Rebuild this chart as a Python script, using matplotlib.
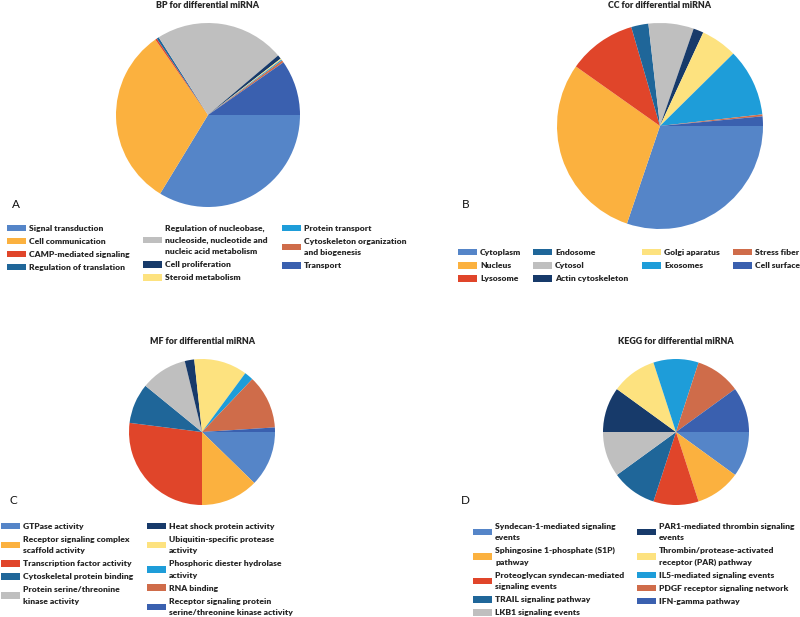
import matplotlib
matplotlib.use("Agg")
import matplotlib.pyplot as plt
from matplotlib.patches import Patch
from matplotlib.font_manager import FontProperties

plt.rcParams['font.family'] = ['Lato', 'DejaVu Sans']

# ---------------- data ----------------
bp_labels = ["Signal transduction", "Cell communication", "CAMP-mediated signaling",
             "Regulation of translation",
             "Regulation of nucleobase,\nnucleoside, nucleotide and\nnucleic acid metabolism",
             "Cell proliferation", "Steroid metabolism", "Protein transport",
             "Cytoskeleton organization\nand biogenesis", "Transport"]
bp_values = [33.7, 31.6, 0.3, 0.4, 22.8, 0.7, 0.2, 0.2, 0.4, 9.7]

cc_labels = ["Cytoplasm", "Nucleus", "Lysosome", "Endosome", "Cytosol",
             "Actin cytoskeleton", "Golgi aparatus", "Exosomes", "Stress fiber", "Cell surface"]
cc_values = [30.2, 29.6, 10.7, 2.7, 7.1, 1.6, 5.7, 10.6, 0.3, 1.5]

mf_labels = ["GTPase activity", "Receptor signaling complex\nscaffold activity",
             "Transcription factor activity", "Cytoskeletal protein binding",
             "Protein serine/threonine\nkinase activity", "Heat shock protein activity",
             "Ubiquitin-specific protease\nactivity", "Phosphoric diester hydrolase\nactivity",
             "RNA binding", "Receptor signaling protein\nserine/threonine kinase activity"]
mf_values = [12.3, 12.7, 27.0, 8.9, 10.3, 2.1, 11.8, 2.0, 11.9, 1.0]

kegg_labels = ["Syndecan-1-mediated signaling\nevents", "Sphingosine 1-phosphate (S1P)\npathway",
               "Proteoglycan syndecan-mediated\nsignaling events", "TRAIL signaling pathway",
               "LKB1 signaling events", "PAR1-mediated thrombin signaling\nevents",
               "Thrombin/protease-activated\nreceptor (PAR) pathway",
               "IL5-mediated signaling events", "PDGF receptor signaling network",
               "IFN-gamma pathway"]
kegg_values = [10, 10, 10, 10, 10, 10, 10, 10, 10, 10]

titles = ["BP for differential miRNA", "CC for differential miRNA",
          "MF for differential miRNA", "KEGG for differential miRNA"]
panel_letters = ["A", "B", "C", "D"]

colors = ["#5585C8", "#FBB13F", "#E0452A", "#1F6699", "#BFBFBF",
          "#173A6A", "#FDE27F", "#1E9DD9", "#CF6C4A", "#3A60AF"]

W, H = 800, 617
fig = plt.figure(figsize=(W / 100, H / 100), dpi=100)
fig.patch.set_facecolor("white")

FS = 6.1
FP = FontProperties(family="Lato", weight=800, size=FS)
TFP = FontProperties(family="Lato", weight=800, size=6.4)


def add_pie(values, cx, cy, r):
    ax = fig.add_axes([(cx - r) / W, 1 - (cy + r) / H, 2 * r / W, 2 * r / H])
    ax.pie(values, colors=colors, startangle=0, counterclock=False,
           wedgeprops=dict(linewidth=0))
    ax.set_xlim(-1, 1)
    ax.set_ylim(-1, 1)
    ax.set_aspect("equal")
    ax.axis("off")
    return ax


def add_legend_cols(labels, cols, xs, ytop):
    idx = 0
    for n, x in zip(cols, xs):
        handles = [Patch(facecolor=colors[i], edgecolor="none", label=labels[i])
                   for i in range(idx, idx + n)]
        leg = fig.legend(handles=handles, loc="upper left",
                         bbox_to_anchor=(x / W, 1 - ytop / H),
                         bbox_transform=fig.transFigure, frameon=False,
                         prop=FP,
                         handlelength=2.2, handleheight=0.8, handletextpad=0.4,
                         labelspacing=0.7, borderpad=0, borderaxespad=0)
        for t in leg.get_texts():
            t.set_linespacing(1.75)
            t.set_color("#262626")
        idx += n


# pies
add_pie(bp_values, 208, 115, 92)
add_pie(cc_values, 660, 126, 103)
add_pie(mf_values, 202, 432, 73)
add_pie(kegg_values, 676, 432, 73)

# titles
for t, (x, y) in zip(titles, [(208, 6), (660, 6), (202, 341), (676, 341)]):
    fig.text(x / W, 1 - y / H, t, ha="center", va="center",
             fontproperties=TFP, color="#262626")

# panel letters
for l, (x, y) in zip(panel_letters, [(16, 205), (466, 205), (13, 501), (465, 501)]):
    fig.text(x / W, 1 - y / H, l, ha="center", va="center", fontsize=8.5,
             color="#111111")

# legends
add_legend_cols(bp_labels, [4, 3, 3], [7, 143, 282], 224.5)
add_legend_cols(cc_labels, [3, 3, 2, 2], [458, 533, 642, 733], 249)
add_legend_cols(mf_labels, [5, 5], [1, 147], 522.5)
add_legend_cols(kegg_labels, [5, 5], [473, 637], 522.5)

fig.savefig("out.png", dpi=100, facecolor="white")
